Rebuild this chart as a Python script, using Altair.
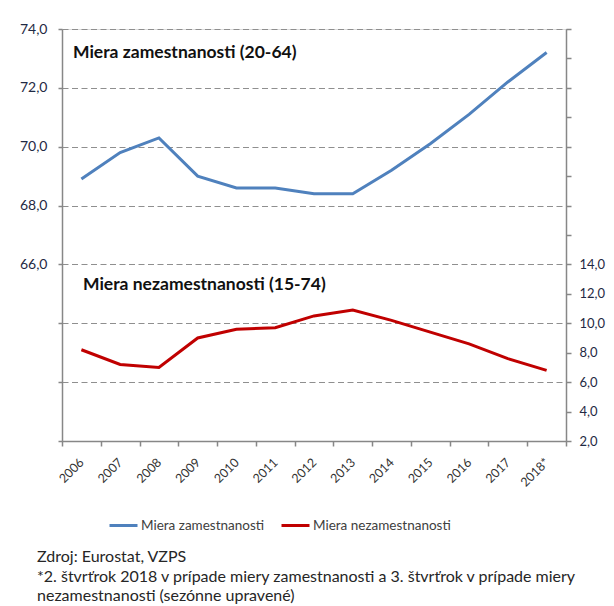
import altair as alt
import pandas as pd

# ---- data ----
years = ["2006", "2007", "2008", "2009", "2010", "2011", "2012",
         "2013", "2014", "2015", "2016", "2017", "2018*"]
employment = [68.9, 69.8, 70.3, 69.0, 68.6, 68.6, 68.4, 68.4, 69.2, 70.1, 71.1, 72.2, 73.2]
unemployment = [8.2, 7.2, 7.0, 9.0, 9.6, 9.7, 10.5, 10.9, 10.2, 9.4, 8.6, 7.6, 6.8]
series_names = ["Miera zamestnanosti", "Miera nezamestnanosti"]
series_colors = ["#4F81BD", "#C00000"]
left_ticks = [60, 62, 64, 66, 68, 70, 72, 74]
right_ticks = [2, 4, 6, 8, 10, 12, 14, 16, 18, 20, 22, 24, 26, 28, 30]
ann_emp = "Miera zamestnanosti (20-64)"
ann_unemp = "Miera nezamestnanosti (15-74)"
footnote = ("Zdroj: Eurostat, VZPS\n"
            "*2. štvrťrok 2018 v prípade miery zamestnanosti a 3. štvrťrok v prípade miery\n"
            "nezamestnanosti (sezónne upravené)")

FONT = "Lato"
AXIS_GRAY = "#878787"
NUM_COLOR = "#1f2a44"

df_emp = pd.DataFrame({"rok": years, "hodnota": employment, "rad": series_names[0]})
df_unemp = pd.DataFrame({"rok": years, "hodnota": unemployment, "rad": series_names[1]})

x_enc = alt.X(
    "rok:N", sort=years, bandPosition=0.5,
    scale=alt.Scale(type="band", paddingInner=0, paddingOuter=0),
    axis=alt.Axis(title=None, labelAngle=315, labelAlign="right", labelBaseline="middle",
                  labelPadding=14, tickSize=5, tickBand="extent", grid=False,
                  domainColor=AXIS_GRAY, domainWidth=1.5, tickColor=AXIS_GRAY, tickWidth=1.5,
                  labelFont=FONT, labelFontSize=12.5, labelColor="#333333"),
)

color_enc = alt.Color(
    "rad:N",
    scale=alt.Scale(domain=series_names, range=series_colors),
    legend=alt.Legend(title=None, orient="none", legendX=46, legendY=481, direction="horizontal",
                      symbolType="stroke", symbolSize=784, symbolStrokeWidth=3,
                      labelFont=FONT, labelFontSize=13.5, labelColor="#404040",
                      columnPadding=10, labelOffset=2, padding=0),
)

emp = alt.Chart(df_emp).mark_line(strokeWidth=3).encode(
    x=x_enc,
    y=alt.Y("hodnota:Q",
            scale=alt.Scale(domain=[60, 74], nice=False, zero=False),
            axis=alt.Axis(title=None, orient="left", values=left_ticks,
                          labelExpr="datum.value >= 66 ? replace(format(datum.value, '.1f'), '.', ',') : ''",
                          grid=True, gridDash=[6, 3.5], gridColor="#8f8f8f", gridWidth=1.2,
                          tickSize=4, labelPadding=11, domainColor=AXIS_GRAY, domainWidth=1.5,
                          tickColor=AXIS_GRAY, tickWidth=1.5,
                          labelFont=FONT, labelFontSize=14, labelColor=NUM_COLOR)),
    color=color_enc,
)

unemp = alt.Chart(df_unemp).mark_line(strokeWidth=3).encode(
    x=x_enc,
    y=alt.Y("hodnota:Q",
            scale=alt.Scale(domain=[2, 30], nice=False, zero=False),
            axis=alt.Axis(title=None, orient="right", values=right_ticks,
                          labelExpr="datum.value <= 14 ? replace(format(datum.value, '.1f'), '.', ',') : ''",
                          grid=False, tickSize=5, labelPadding=8,
                          domainColor=AXIS_GRAY, domainWidth=1.5,
                          tickColor=AXIS_GRAY, tickWidth=1.5,
                          labelFont=FONT, labelFontSize=13, labelColor=NUM_COLOR)),
    color=color_enc,
)

t_emp = alt.Chart(pd.DataFrame({"t": [ann_emp]})).mark_text(
    align="left", baseline="middle", font=FONT, fontSize=17.5, fontWeight="bold", color="#111111"
).encode(x=alt.value(11), y=alt.value(24), text="t:N")

t_unemp = alt.Chart(pd.DataFrame({"t": [ann_unemp]})).mark_text(
    align="left", baseline="middle", font=FONT, fontSize=17.5, fontWeight="bold", color="#111111"
).encode(x=alt.value(21), y=alt.value(256), text="t:N")

t_note = alt.Chart(pd.DataFrame({"t": [footnote]})).mark_text(
    align="left", baseline="top", font=FONT, fontSize=16, color="#262626",
    lineBreak="\n", lineHeight=19.5
).encode(x=alt.value(-25), y=alt.value(520), text="t:N")

chart = alt.layer(emp, unemp, t_emp, t_unemp, t_note).resolve_scale(
    y="independent"
).properties(
    width=504, height=412,
    autosize=alt.AutoSizeParams(type="none"),
    padding={"left": 54, "top": 21, "right": 40, "bottom": 163},
).configure_view(stroke=None).configure(background="white")

chart.save("out.html", embed_options={"renderer": "svg", "actions": False})
